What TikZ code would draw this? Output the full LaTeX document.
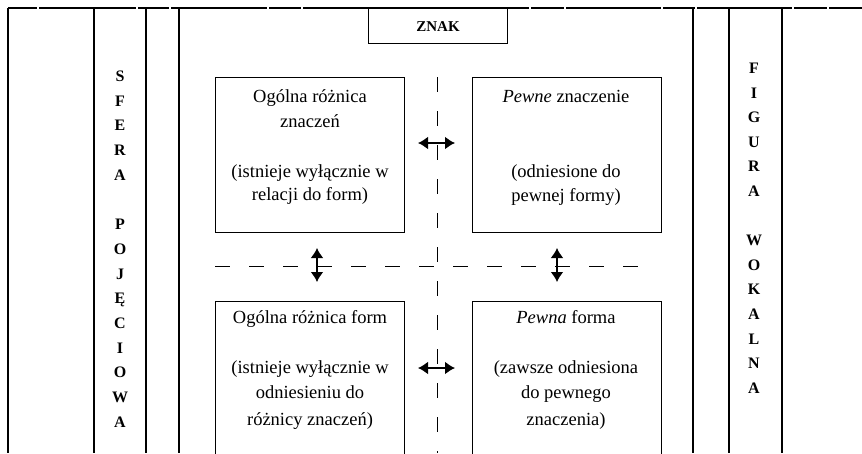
\documentclass[tikz,border=0pt]{standalone}
\usepackage{fontspec}
\setmainfont{Liberation Serif}
\usetikzlibrary{arrows.meta}
\begin{document}
\begin{tikzpicture}[x=1pt,y=-1pt,
  rule/.style={line width=1.3pt},
  toprule/.style={line width=2pt},
  box/.style={draw, line width=1.1pt, anchor=north west, inner sep=0, minimum width=189pt},
  txt/.style={font=\fontsize{18.5}{25}\selectfont, anchor=base, inner sep=0},
  side/.style={font=\fontsize{16}{18}\selectfont\bfseries, anchor=base, inner sep=0},
  dsh/.style={line width=1pt, dash pattern=on 15pt off 19pt},
  dbl/.style={line width=1.8pt, {Latex[length=10pt,width=13pt]}-{Latex[length=10pt,width=13pt]}}
]
\useasboundingbox (0,0) rectangle (862,453);
\clip (0,0) rectangle (862,453);
% top rule with small gaps
\foreach \a/\b in {8/37,39/136,138/169,171/267,269/301,303/529,531/564,566/661,663/695,697/792,794/827,829/862}
  \draw[toprule] (\a,8) -- (\b,8);
% vertical rules
\draw[line width=2.5pt] (8,8) -- (8,453);
\foreach \x in {94,146,179,693,729,782}
  \draw[rule] (\x,8) -- (\x,453);
% ZNAK
\node[draw, line width=1.1pt, anchor=north west, inner sep=0, minimum width=139pt, minimum height=35pt,
      font=\fontsize{15}{17}\selectfont\bfseries] (znak) at (368,8) {ZNAK};
% boxes
\node[box, minimum height=155pt] (b1) at (215,77) {};
\node[box, minimum height=155pt] (b2) at (472,77) {};
\node[box, minimum height=200pt] (b3) at (215,301) {};
\node[box, minimum height=200pt] (b4) at (472,301) {};
% box texts
\node[txt] (b1a) at (310,102) {Ogólna różnica};
\node[txt] (b1b) at (310,127) {znaczeń};
\node[txt] (b1c) at (310,177) {(istnieje wyłącznie w};
\node[txt] (b1d) at (310,200) {relacji do form)};
\node[txt] (b2a) at (566,102) {\textit{Pewne} znaczenie};
\node[txt] (b2c) at (566,177) {(odniesione do};
\node[txt] (b2d) at (566,201) {pewnej formy)};
\node[txt] (b3a) at (310,323) {Ogólna różnica form};
\node[txt] (b3c) at (310,373) {(istnieje wyłącznie w};
\node[txt] (b3d) at (310,398) {odniesieniu do};
\node[txt] (b3e) at (310,425) {różnicy znaczeń)};
\node[txt] (b4a) at (566,323) {\textit{Pewna} forma};
\node[txt] (b4c) at (566,373) {(zawsze odniesiona};
\node[txt] (b4d) at (566,398) {do pewnego};
\node[txt] (b4e) at (566,425) {znaczenia)};
% dashed axes
\coordinate (vt) at (437,77);
\coordinate (vb) at (437,453);
\coordinate (hl) at (215,266);
\coordinate (hr) at (643,266);
\draw[dsh] (vt) -- (vb);
\draw[dsh] (hl) -- (hr);
% double arrows
\coordinate (h1l) at (418,143); \coordinate (h1r) at (455,143);
\coordinate (h2l) at (418,368); \coordinate (h2r) at (455,368);
\coordinate (v1t) at (317,248); \coordinate (v1b) at (317,282);
\coordinate (v2t) at (557,248); \coordinate (v2b) at (557,282);
\draw[dbl] (h1l) -- (h1r);
\draw[dbl] (h2l) -- (h2r);
\draw[dbl] (v1t) -- (v1b);
\draw[dbl] (v2t) -- (v2b);
% side labels
\foreach \l [count=\i from 0] in {S,F,E,R,A,{},P,O,J,Ę,C,I,O,W,A}
  \node[side] (L\i) at (120,81.5+24.7*\i) {\l};
\foreach \l [count=\i from 0] in {F,I,G,U,R,A,{},W,O,K,A,L,N,A}
  \node[side] (R\i) at (754,73.5+24.6*\i) {\l};
\end{tikzpicture}
\end{document}
